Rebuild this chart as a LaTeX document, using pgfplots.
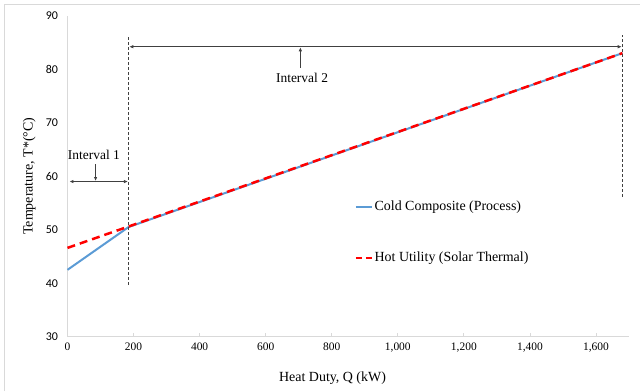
\documentclass[border=0pt]{standalone}
\usepackage{pgfplots}
\pgfplotsset{compat=1.18}
\usepackage{fontspec}
\setmainfont{Liberation Serif}
\newfontfamily\tnr{Liberation Serif}
\newfontfamily\calib{Carlito}
\usetikzlibrary{arrows.meta}
\definecolor{coldblue}{HTML}{5B9BD5}
\definecolor{hotred}{HTML}{FF0000}
\definecolor{axgray}{HTML}{D9D9D9}
\definecolor{dk}{HTML}{404040}
\begin{document}
\begin{tikzpicture}[x=1bp,y=1bp,font=\tnr]
\useasboundingbox (-67.5,-54.3) rectangle (572.5,336.7);
\draw[axgray, line width=1bp] (-62.5,-54.3) -- (-62.5,332.7) -- (572.5,332.7);
\begin{axis}[
  at={(0,0)}, anchor=south west,
  scale only axis, width=561.5bp, height=321bp,
  xmin=0, xmax=1700, ymin=30, ymax=90,
  axis x line*=bottom, axis y line*=left,
  axis line style={axgray, line width=1bp, -},
  xtick={0,200,...,1600}, ytick={30,40,...,90},
  tick align=inside, major tick length=4bp,
  xtick style={axgray, line width=0.8bp},
  ytick style={draw=none},
  /pgf/number format/assume math mode=true,
  /pgf/number format/1000 sep={,},
  xticklabel style={font=\tnr\fontsize{11.5}{13}\selectfont, yshift=-3bp},
  yticklabel style={font=\calib\fontsize{12}{14}\selectfont, xshift=-6bp},
  xlabel={Heat Duty, Q (kW)},
  ylabel={Temperature, T*(°C)},
  label style={font=\tnr\fontsize{14}{16}\selectfont},
  xlabel style={at={(axis description cs:0.472,-0.13)}, anchor=center},
  ylabel style={at={(axis description cs:-0.068,0.5)}, anchor=center},
  legend style={draw=none, fill=none, inner sep=0pt,
    font=\tnr\fontsize{14}{16}\selectfont,
    at={(axis description cs:0.511,0.428)}, anchor=north west,
    row sep=37bp, nodes={inner sep=1.5bp}},
  legend cell align=left,
  legend image code/.code={\draw[#1] (0bp,0bp) -- (16bp,0bp);},
  clip=false,
]
\addplot[coldblue, line width=2bp] coordinates {(0,42.5) (185,50.5) (1680,83.0)};
\addlegendentry{Cold Composite (Process)}
\addplot[hotred, line width=2.5bp, dash pattern=on 8bp off 5bp,
  legend image post style={dash pattern=on 6bp off 4bp}] coordinates {(0,46.6) (185,50.6) (1680,83.0)};
\addlegendentry{Hot Utility (Solar Thermal)}
\addplot[dk, line width=1.2bp, dash pattern=on 3bp off 2bp, forget plot] coordinates {(185,39.7) (185,86.4)};
\addplot[dk, line width=1.2bp, dash pattern=on 3bp off 2bp, forget plot] coordinates {(1680,56.2) (1680,86.4)};
\draw[dk, line width=0.9bp, {Latex[length=4bp,width=3.5bp]}-{Latex[length=4bp,width=3.5bp]}] (axis cs:6,59.0) -- (axis cs:183,59.0);
\draw[dk, line width=0.9bp, -{Latex[length=4bp,width=3.5bp]}] (axis cs:85,62.2) -- (axis cs:85,59.1);
\node[font=\tnr\fontsize{13.5}{15}\selectfont] at (axis cs:80,63.9) {Interval 1};
\draw[dk, line width=0.9bp, {Latex[length=4bp,width=3.5bp]}-{Latex[length=4bp,width=3.5bp]}] (axis cs:187,84.2) -- (axis cs:1678,84.2);
\draw[dk, line width=0.9bp, -{Latex[length=4bp,width=3.5bp]}] (axis cs:705,80.3) -- (axis cs:705,84.1);
\node[font=\tnr\fontsize{13.5}{15}\selectfont] at (axis cs:710,78.3) {Interval 2};
\end{axis}
\end{tikzpicture}
\end{document}
